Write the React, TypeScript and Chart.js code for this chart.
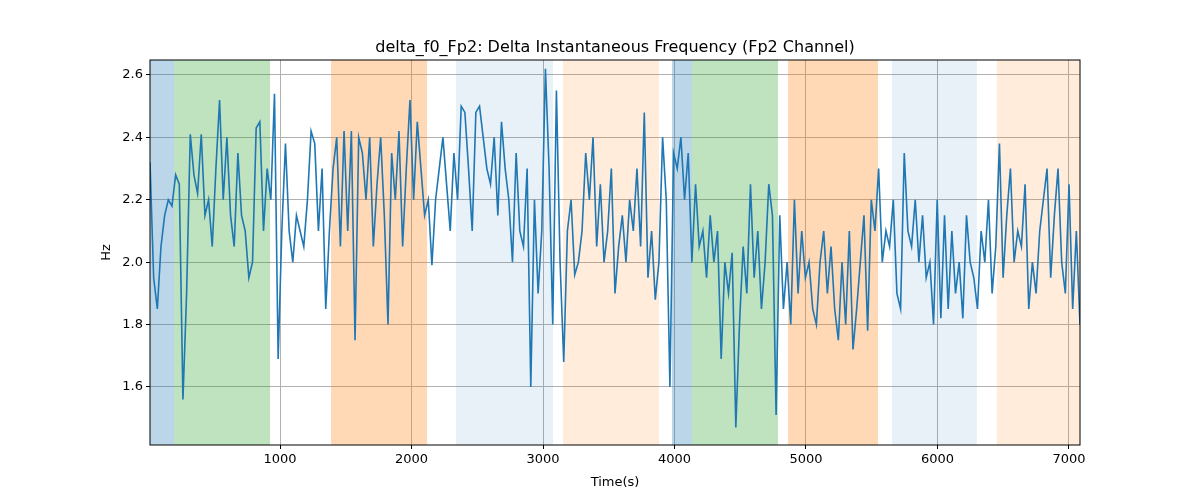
import React, { useEffect, useRef } from "react";
import { Chart, registerables } from "chart.js";
Chart.register(...registerables);

const T_START = 11;
const T_END = 7084;
const values: number[] = [
  2.32,1.95,1.85,2.05,2.15,2.2,2.18,2.28,2.25,1.56,1.9,2.41,2.28,2.22,2.41,2.15,2.2,2.05,2.3,2.52,2.2,2.4,2.15,2.05,2.35,2.15,2.1,1.95,2.0,2.43,2.45,2.1,2.3,2.2,2.54,1.69,
  2.1,2.38,2.1,2.0,2.15,2.1,2.05,2.2,2.42,2.38,2.1,2.3,1.85,2.1,2.3,2.4,2.05,2.42,2.1,2.42,1.75,2.4,2.35,2.2,2.4,2.05,2.25,2.4,2.15,1.8,2.35,2.2,2.42,2.05,2.3,2.52,
  2.2,2.45,2.3,2.15,2.2,1.99,2.2,2.3,2.4,2.25,2.1,2.35,2.2,2.5,2.48,2.3,2.1,2.48,2.5,2.4,2.3,2.25,2.4,2.15,2.45,2.3,2.2,2.0,2.35,2.1,2.05,2.3,1.6,2.2,1.9,2.1,
  2.62,2.3,1.8,2.55,2.0,1.68,2.1,2.2,1.96,2.0,2.1,2.35,2.2,2.4,2.05,2.25,2.0,2.1,2.3,1.9,2.05,2.15,2.0,2.2,2.1,2.3,2.05,2.48,1.95,2.1,1.88,2.0,2.4,2.2,1.6,2.35,
  2.3,2.4,2.2,2.35,2.0,2.25,2.05,2.1,1.95,2.15,2.0,2.1,1.69,2.0,1.9,2.03,1.47,1.8,2.05,1.9,2.25,1.95,2.1,1.85,2.0,2.25,2.15,1.51,2.15,1.85,2.0,1.8,2.2,1.9,2.1,1.95,
  2.0,1.85,1.8,2.0,2.1,1.9,2.05,1.85,1.75,2.0,1.8,2.1,1.72,1.85,2.0,2.15,1.78,2.2,2.1,2.3,2.0,2.1,2.05,2.2,1.9,1.85,2.35,2.1,2.05,2.2,2.0,2.15,1.95,2.0,1.8,2.2,
  1.82,2.15,1.85,2.1,1.9,2.0,1.82,2.15,2.0,1.95,1.85,2.1,2.0,2.2,1.9,2.05,2.38,1.95,2.15,2.3,2.0,2.1,2.05,2.25,1.85,2.0,1.9,2.1,2.2,2.3,1.95,2.15,2.3,2.0,1.9,2.25,1.85,2.1,1.8,
];
const regionStarts = [11, 194, 1388, 2338, 3152, 3981, 4133, 4863, 5654, 6452];
const regionEnds = [194, 924, 2118, 3076, 3882, 4133, 4787, 5548, 6300, 7084];
const regionColors = [
  "rgba(31,119,180,0.3)", "rgba(44,160,44,0.3)", "rgba(255,127,14,0.3)", "rgba(31,119,180,0.1)", "rgba(255,127,14,0.15)",
  "rgba(31,119,180,0.3)", "rgba(44,160,44,0.3)", "rgba(255,127,14,0.3)", "rgba(31,119,180,0.1)", "rgba(255,127,14,0.15)",
];
const xTicks = [1000, 2000, 3000, 4000, 5000, 6000, 7000];
const yTicks = [1.6, 1.8, 2.0, 2.2, 2.4, 2.6];
const TITLE = "delta_f0_Fp2: Delta Instantaneous Frequency (Fp2 Channel)";

export default function App() {
  const ref = useRef<HTMLCanvasElement>(null);
  useEffect(() => {
    const step = (T_END - T_START) / (values.length - 1);
    const pts = values.map((v, i) => ({ x: T_START + i * step, y: v }));
    const font = { family: "DejaVu Sans", size: 13 };
    const regions = {
      id: "regions",
      beforeDatasetsDraw(c: any) {
        const { ctx, chartArea: a, scales } = c;
        ctx.save();
        regionStarts.forEach((s, i) => {
          const x0 = scales.x.getPixelForValue(s);
          const x1 = scales.x.getPixelForValue(regionEnds[i]);
          ctx.fillStyle = regionColors[i];
          ctx.fillRect(x0, a.top, x1 - x0, a.bottom - a.top);
        });
        ctx.restore();
      },
      afterDraw(c: any) {
        const { ctx, chartArea: a } = c;
        ctx.save();
        ctx.strokeStyle = "#000";
        ctx.lineWidth = 1;
        ctx.strokeRect(a.left, a.top, a.right - a.left, a.bottom - a.top);
        ctx.fillStyle = "#000";
        ctx.font = "16px 'DejaVu Sans'";
        ctx.textAlign = "center";
        ctx.fillText(TITLE, (a.left + a.right) / 2, 52);
        ctx.restore();
      },
    };
    const chart = new Chart(ref.current!, {
      type: "line",
      data: { datasets: [{ data: pts, borderColor: "#1f77b4", borderWidth: 1.6, pointRadius: 0, tension: 0 }] },
      options: {
        animation: false,
        responsive: false,
        layout: { padding: { top: 60, left: 95, right: 120, bottom: 0 } },
        plugins: { legend: { display: false }, tooltip: { enabled: false } },
        scales: {
          x: {
            type: "linear", min: T_START, max: T_END,
            afterBuildTicks: (s: any) => { s.ticks = xTicks.map((v) => ({ value: v })); },
            afterFit: (s: any) => { s.height = 55; },
            ticks: { color: "#000", font, maxRotation: 0, callback: (v: any) => String(v) },
            grid: { color: "#b0b0b0", drawTicks: true, tickLength: 4, tickColor: "#000" },
            border: { display: false },
            title: { display: true, text: "Time(s)", color: "#000", font, padding: { top: 0, bottom: 10 } },
          },
          y: {
            min: 1.414, max: 2.648,
            afterBuildTicks: (s: any) => { s.ticks = yTicks.map((v) => ({ value: v })); },
            afterFit: (s: any) => { s.width = 55; },
            ticks: { color: "#000", font, callback: (v: any) => Number(v).toFixed(1) },
            grid: { color: "#b0b0b0", tickLength: 4, tickColor: "#000" },
            border: { display: false },
            title: { display: true, text: "Hz", color: "#000", font },
          },
        },
      },
      plugins: [regions],
    });
    return () => chart.destroy();
  }, []);
  return (
    <div style={{ position: "fixed", left: 0, top: 0, width: 1200, height: 500, background: "#fff" }}>
      <canvas ref={ref} width={1200} height={500} />
    </div>
  );
}
